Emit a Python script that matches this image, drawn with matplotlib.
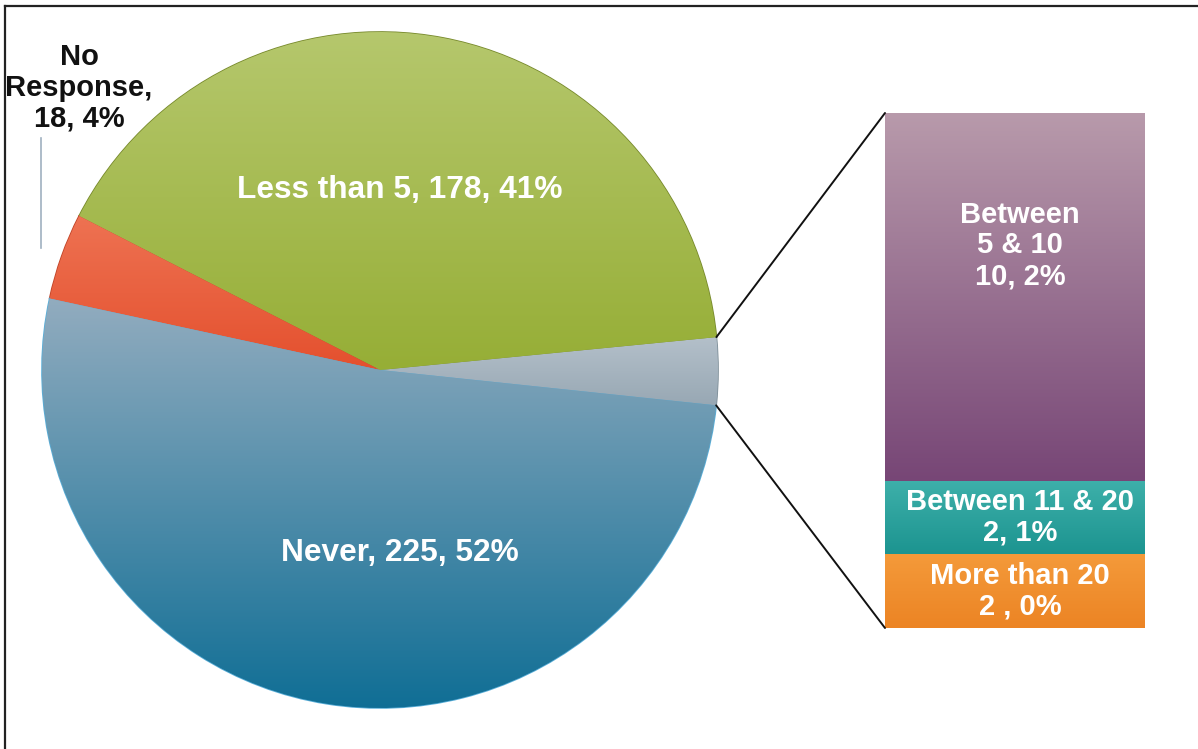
#!/usr/bin/env python3
"""Pie-of-bar chart: how often respondents did it, with the small slice broken out."""

import matplotlib

matplotlib.use("Agg")
import matplotlib.pyplot as plt
import numpy as np
from matplotlib.colors import LinearSegmentedColormap
from matplotlib.patches import ConnectionPatch

# pie slices, counter-clockwise from the grey "other" slice on the right
pie_labels = ["Other", "Less than 5", "No Response", "Never"]
pie_values = [14, 178, 18, 225]
pie_texts = ["", "Less than 5, 178, 41%", "No\nResponse,\n18, 4%", "Never, 225, 52%"]

# stacked bar, bottom to top
bar_labels = ["More than 20", "Between 11 & 20", "Between 5 & 10"]
bar_values = [2, 2, 10]
bar_texts = ["More than 20\n2 , 0%", "Between 11 & 20\n2, 1%", "Between\n5 & 10\n10, 2%"]

W, H = 1198, 749
FONT = ["Liberation Sans", "DejaVu Sans"]

pie_grad = [("#b4c0ca", "#98a8b4"), ("#b6c86e", "#96ae36"),
            ("#ee7252", "#e4502e"), ("#92acbf", "#0f6e95")]
pie_edge = ["#7d8e98", "#77892c", "#c04428", "#5aaed8"]
bar_grad = [("#f49a3a", "#ec8424"), ("#3eb0aa", "#1c9490"), ("#b89aab", "#774676")]


def gradient_fill(ax, patch, top, bottom, extent):
    cmap = LinearSegmentedColormap.from_list("g", [bottom, top])
    grad = np.linspace(0, 1, 256).reshape(-1, 1)
    im = ax.imshow(grad, extent=extent, origin="lower", cmap=cmap, aspect="auto",
                   zorder=patch.get_zorder() + 0.1, interpolation="bilinear")
    im.set_clip_path(patch)
    return im


fig = plt.figure(figsize=(W / 100, H / 100), dpi=100)
ax = fig.add_axes([0, 0, 1, 1])

cx, cy, r = 380, H - 370, 338
start = -6.0
wedges, _ = ax.pie(pie_values, startangle=start, center=(cx, cy), radius=r,
                   counterclock=True, wedgeprops=dict(linewidth=1.2))
for w, (top, bottom), ec in zip(wedges, pie_grad, pie_edge):
    w.set_edgecolor(ec)
    w.set_facecolor(bottom)
    v = w.get_path().vertices
    gradient_fill(ax, w, top, bottom, [v[:, 0].min(), v[:, 0].max(), v[:, 1].min(), v[:, 1].max()])

# (x, y, colour, size, line spacing) per slice label
text_style = [None,
              (400, H - 190, "white", 22.8, 1.0),
              (79, H - 88, "#111111", 21, 1.12),
              (400, H - 553, "white", 22.8, 1.0)]
for txt, style in zip(pie_texts, text_style):
    if style is None:
        continue
    x, y, col, fs, ls = style
    ax.text(x, y, txt, ha="center", va="center", color=col, fontsize=fs,
            fontweight="bold", family=FONT, linespacing=ls, zorder=5)

# leader line for the "No Response" label
ax.plot([41, 41], [H - 138, H - 248], color="#9fb0c0", lw=1.2, zorder=4)

# frame lines (top and left only)
ax.plot([5, W], [H - 6, H - 6], color="#222222", lw=1.6, zorder=6)
ax.plot([5, 5], [H - 6, 0], color="#222222", lw=1.6, zorder=6)

ax.set_xlim(0, W)
ax.set_ylim(0, H)
ax.set_aspect("equal")
ax.axis("off")

# broken-out bar
bx0, by0, bw, bh = 885, H - 628, 260, 515
bax = fig.add_axes([bx0 / W, by0 / H, bw / W, bh / H])
bottoms = np.concatenate([[0], np.cumsum(bar_values)[:-1]])
bars = bax.bar(0, bar_values, bottom=bottoms, width=1.0, edgecolor="white", linewidth=2.0)
for b, (top, bottom), base, val, txt in zip(bars, bar_grad, bottoms, bar_values, bar_texts):
    b.set_facecolor(bottom)
    gradient_fill(bax, b, top, bottom, [-0.5, 0.5, base, base + val])
    bax.text(0.02, base + val / 2 + (1.4 if val > 5 else 0), txt, ha="center", va="center",
             color="white", fontsize=21, fontweight="bold", family=FONT, linespacing=1.12,
             zorder=5)
bax.set_xlim(-0.5, 0.5)
bax.set_ylim(0, sum(bar_values))
bax.axis("off")

# connector lines from the grey slice to the bar corners
t0 = np.deg2rad(start)
t1 = np.deg2rad(start + 360 * pie_values[0] / sum(pie_values))
for t, ycorner in [(t1, sum(bar_values)), (t0, 0)]:
    con = ConnectionPatch(xyA=(cx + r * np.cos(t), cy + r * np.sin(t)), coordsA=ax.transData,
                          xyB=(-0.5, ycorner), coordsB=bax.transData, color="#111111", lw=1.4)
    fig.add_artist(con)

fig.savefig("out.png", dpi=100, facecolor="white")
